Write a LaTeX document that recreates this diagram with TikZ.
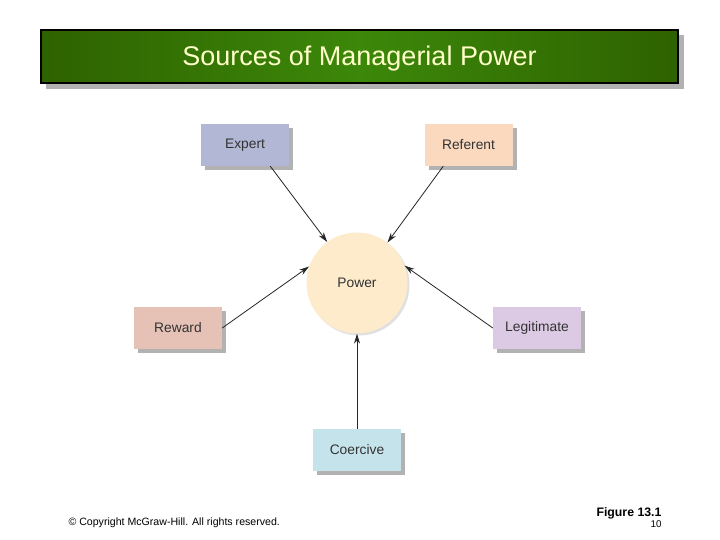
\documentclass[tikz,border=0pt]{standalone}
\usepackage{fontspec}
\setmainfont{Liberation Sans}
\usetikzlibrary{shapes,arrows.meta,positioning,calc,shadows}
\usepackage{xcolor}

\definecolor{ttlEdge}{HTML}{2E6200}
\definecolor{ttlMid}{HTML}{3C880A}
\definecolor{ttlText}{HTML}{FFFFC8}
\definecolor{expertFill}{HTML}{B1B7D5}
\definecolor{referentFill}{HTML}{FBD9BE}
\definecolor{rewardFill}{HTML}{E5C1B6}
\definecolor{legitFill}{HTML}{DCC9E3}
\definecolor{coerciveFill}{HTML}{C5E3EA}
\definecolor{powerFill}{HTML}{FDEBCC}
\definecolor{lblText}{HTML}{333333}

\tikzset{
  source/.style={rectangle, minimum width=88pt, minimum height=42pt, inner sep=0pt,
    font=\fontsize{13.8}{15}\selectfont, text=lblText,
    drop shadow={shadow xshift=4pt, shadow yshift=-4pt, fill=black, opacity=0.3}},
  arr/.style={-{Stealth[length=10pt,width=6pt]}, line width=0.8pt, black!85}
}

\begin{document}
\begin{tikzpicture}[x=1pt, y=-1pt]
                    \useasboundingbox[fill=white] (0,0) rectangle (720,540);

                    % Title bar
                    \fill[black!30] (46,35) rectangle (684,89);
                    \draw[very thick, left color=ttlEdge, right color=ttlEdge, middle color=ttlMid]
                        (41,30) rectangle (678,83);
                    \node[text=ttlText, font=\fontsize{27}{30}\selectfont] (title) at (359.5,59)
                        {Sources of Managerial Power};

                    % Centre
                    \node[circle, minimum size=101pt, inner sep=0pt, fill=powerFill,
                        font=\fontsize{13.8}{15}\selectfont, text=lblText,
                        drop shadow={shadow xshift=2pt, shadow yshift=-2pt, fill=black, opacity=0.12}]
                        (power) at (357,283) {Power};

                    % Sources
                    \node[source, fill=expertFill] (expert) at (245,145) {Expert};
                    \node[source, fill=referentFill] (referent) at (468.5,145) {Referent};
                    \node[source, fill=rewardFill] (reward) at (178,328) {Reward};
                    \node[source, fill=legitFill] (legit) at (537,328) {Legitimate};
                    \node[source, fill=coerciveFill] (coercive) at (357,450) {Coercive};

                    % Arrows
                    \draw[arr] (expert.-40) -- (power.126);
                    \draw[arr] (referent.-140) -- (power.53);
                    \draw[arr] (reward.east) -- (power.161);
                    \draw[arr] (legit.west) -- (power.20);
                    \draw[arr] (coercive.north) -- (power.south);

                    % Footer
                    \node[anchor=base west, font=\fontsize{10.6}{12}\selectfont] (copy) at (65,525)
                        {\textcopyright{} Copyright McGraw-Hill. All rights reserved.};
                    \node[anchor=base east, font=\bfseries\fontsize{12.3}{14}\selectfont] (fig) at (665,516)
                        {Figure 13.1};
                    \node[anchor=base east, font=\fontsize{9.8}{11}\selectfont] (pnum) at (665,527) {10};
                \end{tikzpicture}
\end{document}
